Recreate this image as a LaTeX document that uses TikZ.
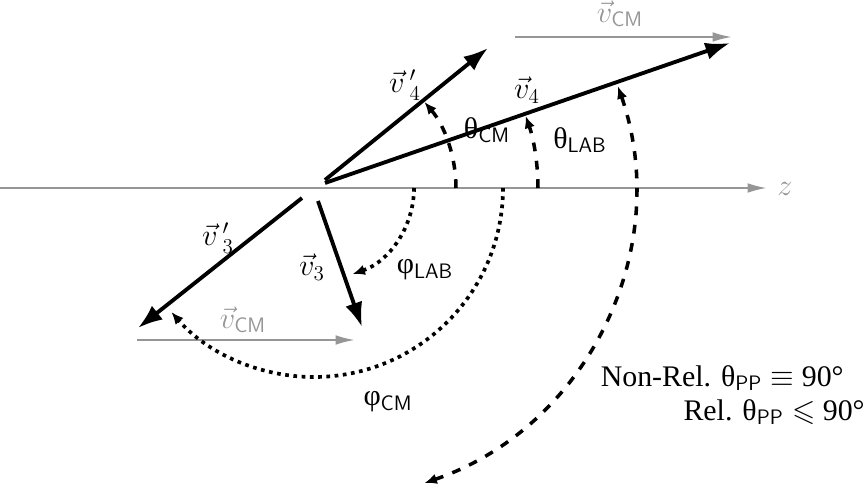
\documentclass[tikz,border=0pt]{standalone}
\usepackage{fontspec}
\setmainfont{Liberation Serif}
\usepackage{amssymb}
\usetikzlibrary{arrows.meta}
\definecolor{axgray}{RGB}{150,150,150}
\begin{document}
\begin{tikzpicture}[
  font=\fontsize{17}{20}\selectfont,
  vecarrow/.style={line width=2.2pt, -{Latex[length=14pt,width=10pt]}},
  gvec/.style={axgray, line width=1.2pt, -{Latex[length=11pt,width=5.5pt]}},
  dasharc/.style={line width=2pt, dash pattern=on 5pt off 5.5pt},
  dotarc/.style={line width=2.1pt, dash pattern=on 2.1pt off 2.6pt},
  smalltip/.style={-{Latex[length=7pt,width=6pt]}},
  lbl/.style={inner sep=1pt}
]
\useasboundingbox (-6.46,3.76) rectangle (10.88,-6.14);

% axis
\coordinate (O) at (0,0);
\coordinate (axL) at (-6.46,0);
\coordinate (axR) at (8.88,0);
\draw[gvec] (axL) -- (axR);
\node[lbl, axgray] (zl) at (9.24,-0.02) {$z$};

% vectors
\coordinate (v4s) at (0.04,0.10);
\coordinate (v4e) at (8.14,2.90);
\coordinate (v4ps) at (0.04,0.16);
\coordinate (v4pe) at (3.30,2.80);
\coordinate (v3ps) at (-0.42,-0.20);
\coordinate (v3pe) at (-3.70,-2.80);
\coordinate (v3s) at (-0.10,-0.26);
\coordinate (v3e) at (0.78,-2.78);
\draw[vecarrow] (v4s) -- (v4e);
\draw[vecarrow] (v4ps) -- (v4pe);
\draw[vecarrow] (v3ps) -- (v3pe);
\draw[vecarrow] (v3s) -- (v3e);

% CM velocity arrows
\coordinate (cmts) at (3.84,3.02);
\coordinate (cmte) at (8.18,3.02);
\coordinate (cmbs) at (-3.72,-3.04);
\coordinate (cmbe) at (0.64,-3.04);
\draw[gvec] (cmts) -- (cmte);
\draw[gvec] (cmbs) -- (cmbe);
\node[lbl, axgray] (cmtl) at (5.94,3.48) {$\vec{v}_{\mathsf{CM}}$};
\node[lbl, axgray] (cmbl) at (-1.60,-2.64) {$\vec{v}_{\mathsf{CM}}$};

% vector labels
\node[lbl] (l4p) at (1.64,2.06) {$\vec{v}\,'_{4}$};
\node[lbl] (l4) at (4.08,1.96) {$\vec{v}_{4}$};
\node[lbl] (l3p) at (-2.10,-1.00) {$\vec{v}\,'_{3}$};
\node[lbl] (l3) at (-0.22,-1.58) {$\vec{v}_{3}$};

% angle arcs
\draw[dasharc, smalltip] (2.66,0) arc[start angle=0, end angle=40.3, radius=2.66];
\draw[dasharc, smalltip] (4.30,0) arc[start angle=0, end angle=19.6, radius=4.30];
\draw[dasharc, {Latex[length=7pt,width=6pt]}-{Latex[length=7pt,width=6pt]}] (-71:6.24) arc[start angle=-71, end angle=19.0, radius=6.24];
\draw[dotarc, smalltip] (1.82,0) arc[start angle=0, end angle=-71, radius=1.82];
\draw[dotarc, smalltip] (3.60,0) arc[start angle=0, end angle=-139, radius=3.78];

% angle labels
\node[lbl] (tcm) at (3.28,1.16) {θ$_{\mathsf{CM}}$};
\node[lbl] (tlab) at (5.14,0.96) {θ$_{\mathsf{LAB}}$};
\node[lbl] (plab) at (2.04,-1.64) {φ$_{\mathsf{LAB}}$};
\node[lbl] (pcm) at (1.30,-4.28) {φ$_{\mathsf{CM}}$};

% remark
\node[inner sep=0pt, anchor=east, align=right, font=\fontsize{17}{19.5}\selectfont] (remark) at (10.84,-4.14)
  {Non-Rel. θ$_{\mathsf{PP}}\equiv$ 90°\hspace*{0.42cm}\\ Rel. θ$_{\mathsf{PP}}\leqslant$ 90°};
\end{tikzpicture}
\end{document}
